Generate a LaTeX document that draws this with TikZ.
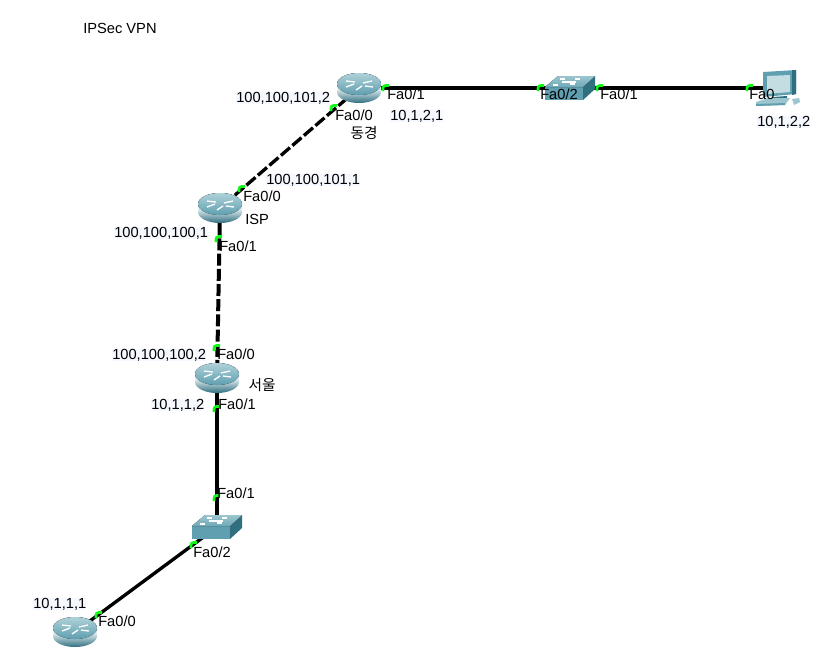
\documentclass[tikz,border=0pt]{standalone}
\usepackage{fontspec}
\setmainfont{Liberation Sans}
\newfontfamily\krfont{Noto Sans CJK KR}
\definecolor{portgreen}{HTML}{10F818}
\definecolor{tealdark}{HTML}{2F6F80}
\definecolor{tealmid}{HTML}{5F9FB0}
\definecolor{teallight}{HTML}{9CC6CF}
\definecolor{labelbg}{HTML}{F5F8FF}
\tikzset{
  x=0.75pt,y=-0.75pt,
  anchorbox/.style={inner sep=0pt,minimum width=30pt,minimum height=20pt},
  link/.style={line width=2.5pt,black},
  straightlink/.style={line width=3pt,black},
  vpnlink/.style={link,dash pattern=on 9pt off 2.4pt},
  vpnstraight/.style={straightlink,dash pattern=on 9pt off 2.4pt},
  txt/.style={anchor=west,inner sep=0pt,font=\fontsize{11pt}{12pt}\selectfont,text height=8pt,text depth=1pt},
  iptxt/.style={txt,fill=labelbg},
  krtxt/.style={anchor=center,inner sep=0pt,font=\krfont\fontsize{11pt}{12pt}\selectfont},
  port/.pic={\draw[portgreen,line width=2pt] (-3,3) -- (-3,0) arc[start angle=180,end angle=270,x radius=2.5,y radius=2.5] -- (3,-2.5);},
  routerpic/.pic={
    \shade[left color=tealdark,right color=tealdark,middle color=white!80!teallight,shading angle=0]
      (-22,-4) -- (-22,4) arc[start angle=180,end angle=0,x radius=22,y radius=11] -- (22,-4) arc[start angle=0,end angle=-180,x radius=22,y radius=11] -- cycle;
    \fill[top color=teallight!80!white,bottom color=tealmid] (0,-4) ellipse[x radius=22,y radius=11];
    \draw[white,line width=1pt] (-13,-7)--(-4,-6) (-13,-1)--(-5,-4) (13,-7)--(4,-5) (6,-2)--(14,-1) (-3,2)--(3,-2);
  },
  switchpic/.pic={
    \fill[tealmid] (-25,-1) -- (-25,12) -- (13,12) -- (13,-1) -- cycle;
    \fill[tealdark] (13,-1) -- (13,12) -- (25,1) -- (25,-12) -- cycle;
    \fill[top color=teallight,bottom color=tealmid!90] (-25,-1) -- (-12,-12) -- (25,-12) -- (13,-1) -- cycle;
    \draw[white,line width=0.9pt] (-10,-9)--(-5,-9) (5,-9)--(10,-9) (-17,-3)--(-12,-3) (0,-4)--(5,-4) (-8,-6)--(6,-6);
  },
  pcpic/.pic={
    \fill[tealmid] (-14,-16) -- (19,-18) -- (19,6) -- (-14,9) -- cycle;
    \fill[tealdark] (15,-18) -- (19,-18) -- (19,6) -- (15,7) -- cycle;
    \fill[teallight!60!white] (-10,-12) -- (13,-13) -- (13,4) -- (-10,6) -- cycle;
    \fill[tealdark] (-4,9) -- (10,8) -- (10,11) -- (-4,12) -- cycle;
    \fill[teallight] (-21,14) -- (-9,10) -- (13,10) -- (8,17) -- (-21,18) -- cycle;
    \fill[tealmid] (-21,16) -- (8,15) -- (8,17) -- (-21,18) -- cycle;
    \fill[teallight] (15,11) -- (22,10) -- (23,14) -- (17,17) -- cycle;
  }
}
\begin{document}
\begin{tikzpicture}
\useasboundingbox (0,0) rectangle (838,662);
\fill[white] (0,0) rectangle (838,662);
% device anchors
\node[anchorbox] (tokyo) at (359,88) {};
\node[anchorbox] (isp) at (220,208) {};
\node[anchorbox] (seoul) at (217,378) {};
\node[anchorbox] (host) at (75,632) {};
\node[anchorbox] (swa) at (217,527) {};
\node[anchorbox] (swb) at (570,88) {};
\node[anchorbox] (pc) at (777,88) {};
% connectors
\draw[straightlink] (tokyo.center) -- (swb.center);
\draw[straightlink] (swb.center) -- (pc.center);
\draw[vpnlink] (tokyo.center) -- (isp.center);
\draw[vpnstraight] (isp.center) -- (seoul.center);
\draw[straightlink] (seoul.center) -- (swa.center);
\draw[link] (swa.center) -- (host.center);
% device drawings
\pic at (tokyo) {routerpic};
\pic at (isp) {routerpic};
\pic at (seoul) {routerpic};
\pic at (host) {routerpic};
\pic at (swa) {switchpic};
\pic at (swb) {switchpic};
\pic at (pc) {pcpic};
% port markers
\foreach \p in {(386,88),(541,88),(600,88),(750,88),(334,108),(242,189),(219,239),(217,348),(217,409),(217,498),(194,545),(99,615)}
  \pic at \p {port};
% labels
\node[txt] (title) at (83,29) {IPSec VPN};
\node[iptxt] (l1) at (236,98) {100,100,101,2};
\node[txt] (l2) at (335,116) {Fa0/0};
\node[krtxt] (l3) at (364,133) {동경};
\node[txt] (l4) at (387,95) {Fa0/1};
\node[iptxt] (l5) at (390,116) {10,1,2,1};
\node[txt] (l6) at (540,95) {Fa0/2};
\node[txt] (l7) at (600,95) {Fa0/1};
\node[txt] (l8) at (749,95) {Fa0};
\node[iptxt] (l9) at (757,122) {10,1,2,2};
\node[iptxt] (l10) at (266,180) {100,100,101,1};
\node[txt] (l11) at (243,197) {Fa0/0};
\node[txt] (l12) at (245,220) {ISP};
\node[iptxt] (l13) at (114,233) {100,100,100,1};
\node[txt] (l14) at (219,247) {Fa0/1};
\node[iptxt] (l15) at (112,355) {100,100,100,2};
\node[txt] (l16) at (217,355) {Fa0/0};
\node[krtxt] (l17) at (262,385) {서울};
\node[iptxt] (l18) at (151,405) {10,1,1,2};
\node[txt] (l19) at (218,405) {Fa0/1};
\node[txt] (l20) at (217,494) {Fa0/1};
\node[txt] (l21) at (193,553) {Fa0/2};
\node[iptxt] (l22) at (33,604) {10,1,1,1};
\node[txt] (l23) at (98,622) {Fa0/0};
\end{tikzpicture}
\end{document}
